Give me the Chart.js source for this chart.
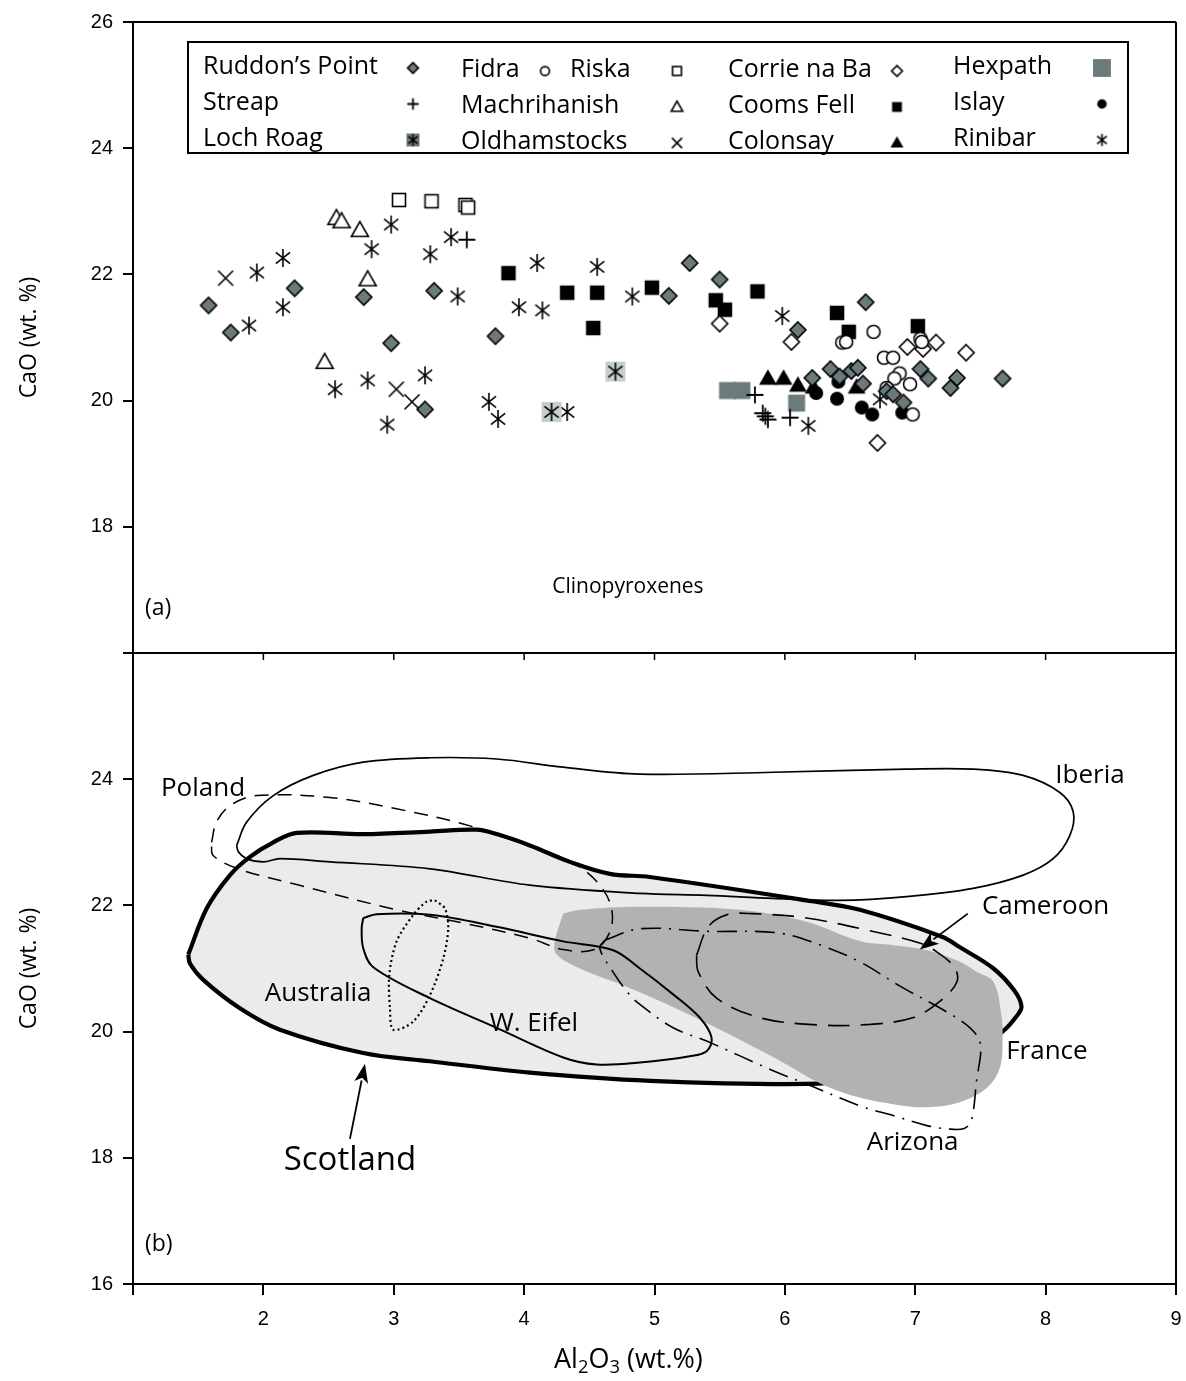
<!DOCTYPE html>
<html>
<head>
<meta charset="utf-8">
<script src="https://cdn.jsdelivr.net/npm/chart.js@4.4.1/dist/chart.umd.min.js"></script>
<style>
  html, body { margin: 0; padding: 0; background: #fff; }
  #wrap { width: 1186px; height: 1381px; position: relative; }
</style>
</head>
<body>
<div id="wrap"><canvas id="c" width="1186" height="1381"></canvas></div>
<script>
// ---------- Panel (a): clinopyroxene analyses, [Al2O3, CaO] wt.% ----------
const ruddonsPoint = [[1.58,21.51],[1.75,21.08],[2.24,21.78],[2.77,21.64],[3.31,21.74],[2.98,20.91],[3.24,19.86],[3.78,21.02],
  [5.27,22.18],[5.50,21.92],[5.11,21.66],[6.10,21.12],[6.62,21.56],[6.21,20.36],[6.35,20.50],[6.42,20.38],[6.51,20.47],
  [6.56,20.52],[6.60,20.27],[7.04,20.50],[7.10,20.35],[7.32,20.36],[7.27,20.20],[6.78,20.15],[6.83,20.10],[6.91,19.97],[7.67,20.35]];
const fidra = [[6.68,21.09],[6.44,20.92],[6.47,20.93],[6.76,20.68],[6.83,20.68],[7.04,20.98],[7.05,20.93],[6.88,20.43],
  [6.84,20.35],[6.96,20.26],[6.78,20.20],[6.98,19.78]];
const riska = [[3.04,23.18],[3.29,23.16],[3.55,23.10],[3.57,23.06]];
const corrieNaBa = [[5.50,21.22],[6.05,20.93],[6.94,20.85],[7.06,20.82],[7.16,20.92],[7.39,20.76],[6.71,19.33]];
const hexpath = [[5.56,20.16],[5.67,20.16],[6.09,19.96]];
const streap = [[3.56,22.55],[5.77,20.09],[5.83,19.80],[5.85,19.75],[5.87,19.70],[6.04,19.73]];
const machrihanish = [[2.56,22.89],[2.60,22.84],[2.74,22.70],[2.80,21.92],[2.47,20.61]];
const coomsFell = [[3.88,22.02],[4.33,21.71],[4.56,21.71],[4.53,21.15],[4.98,21.79],[5.47,21.59],[5.54,21.44],[5.79,21.73],
  [6.40,21.39],[6.49,21.09],[7.02,21.18]];
const islay = [[6.24,20.12],[6.40,20.03],[6.59,19.89],[6.67,19.78],[6.90,19.81],[6.41,20.30]];
const lochRoag = [[4.70,20.46],[4.21,19.82]];
const oldhamstocks = [[1.71,21.94],[3.02,20.18],[3.14,19.98]];
const colonsay = [[5.87,20.35],[5.99,20.35],[6.10,20.24],[6.22,20.21],[6.55,20.21]];
const rinibar = [[2.98,22.79],[2.83,22.40],[3.44,22.59],[3.28,22.32],[2.15,22.26],[1.95,22.03],[2.15,21.48],[1.89,21.19],
  [3.49,21.65],[2.55,20.18],[2.80,20.32],[3.24,20.40],[2.95,19.62],[3.73,19.98],[3.80,19.71],[4.10,22.18],[3.96,21.48],
  [4.14,21.43],[4.56,22.12],[4.83,21.65],[5.98,21.34],[4.33,19.82],[6.18,19.60],[6.73,20.02]];

// ---------- Panel (b): compositional fields (closed outlines) ----------
const scotlandField = [[1.424,21.22],[1.565,21.95],[1.744,22.48],[1.897,22.77],[2.076,23.00],[2.255,23.15],[2.766,23.13],
  [3.278,23.17],[3.636,23.20],[3.789,23.13],[4.044,22.95],[4.351,22.69],[4.658,22.50],[4.965,22.45],[6.166,22.08],
  [6.575,21.93],[7.21,21.50],[7.34,21.34],[7.60,21.00],[7.76,20.65],[7.815,20.40],[7.78,20.25],[7.67,20.00],
  [7.45,19.72],[7.00,19.42],[6.60,19.25],[6.166,19.17],[4.965,19.22],[4.044,19.35],[3.278,19.53],[2.766,19.66],
  [2.127,20.03],[1.820,20.37],[1.539,20.82],[1.437,21.08],[1.424,21.22]];
const franceField = [[4.30,21.87],[4.236,21.43],[4.249,21.22],[4.428,21.00],[4.80,20.70],[5.15,20.38],[5.55,19.98],
  [5.95,19.55],[6.30,19.15],[6.58,18.95],[6.83,18.85],[7.09,18.80],[7.34,18.88],[7.55,19.11],[7.65,19.43],[7.67,19.90],
  [7.66,20.27],[7.60,20.79],[7.47,20.95],[7.34,21.11],[7.09,21.29],[6.83,21.37],[6.58,21.43],[6.166,21.74],
  [5.655,21.93],[4.888,21.98],[4.428,21.93],[4.30,21.87]];
const polandField = [[1.603,23.00],[1.640,23.32],[1.744,23.58],[1.949,23.74],[2.511,23.71],[3.022,23.53],[3.533,23.29],
  [4.044,22.95],[4.402,22.64],[4.581,22.32],[4.671,21.95],[4.658,21.58],[4.54,21.30],[4.30,21.30],[4.044,21.48],
  [3.533,21.72],[3.022,21.93],[2.255,22.33],[1.820,22.57],[1.615,22.79],[1.603,23.00]];
const iberiaField = [[1.795,22.95],[1.872,23.32],[2.076,23.74],[2.383,24.06],[2.766,24.27],[3.278,24.34],[3.789,24.32],
  [4.30,24.19],[4.888,24.08],[5.91,24.11],[6.933,24.16],[7.444,24.16],[7.828,24.06],[8.109,23.79],[8.212,23.48],
  [8.186,23.11],[8.058,22.74],[7.828,22.48],[7.444,22.27],[6.933,22.14],[6.42,22.08],[5.91,22.11],[5.40,22.16],
  [4.888,22.19],[4.044,22.32],[3.278,22.58],[2.511,22.69],[2.127,22.74],[2.000,22.69],[1.872,22.74],[1.808,22.85],[1.795,22.95]];
const wEifelField = [[2.766,21.80],[2.869,21.86],[3.278,21.85],[3.789,21.66],[4.30,21.43],[4.683,21.29],[4.888,21.00],
  [5.143,20.59],[5.348,20.22],[5.438,19.90],[5.40,19.69],[5.27,19.61],[4.888,19.51],[4.556,19.48],[4.30,19.59],
  [3.789,20.06],[3.278,20.53],[2.843,21.02],[2.766,21.32],[2.754,21.64],[2.766,21.80]];
const australiaField = [[3.316,22.08],[3.393,21.95],[3.418,21.64],[3.380,21.16],[3.278,20.58],[3.150,20.16],[2.996,20.03],
  [2.971,20.37],[2.966,20.90],[3.022,21.43],[3.150,21.85],[3.252,22.06],[3.316,22.08]];
const cameroonField = [[5.322,21.21],[5.412,21.66],[5.552,21.85],[5.75,21.87],[6.166,21.80],[6.65,21.60],[7.04,21.40],
  [7.16,21.27],[7.30,21.02],[7.32,20.79],[7.20,20.50],[6.98,20.22],[6.62,20.11],[6.217,20.11],[5.808,20.22],[5.476,20.53],
  [5.335,20.95],[5.322,21.21]];
const arizonaField = [[4.62,21.45],[4.888,21.63],[5.40,21.59],[5.962,21.56],[6.30,21.35],[6.58,21.10],[6.90,20.70],
  [7.21,20.35],[7.42,20.06],[7.50,19.80],[7.47,19.22],[7.43,18.59],[7.37,18.46],[7.24,18.46],[7.09,18.51],[6.83,18.67],
  [6.58,18.82],[6.166,19.17],[5.91,19.38],[5.40,19.85],[5.143,20.06],[4.888,20.43],[4.81,20.58],[4.68,20.95],
  [4.58,21.32],[4.62,21.45]];

// Axis ticks
const xTicks = [1,2,3,4,5,6,7,8,9];
const yTicks = [16,18,20,22,24,26];

// ---------- symbols ----------
const GRAY = '#6b7b7c';
const LIGHT = '#c6cece';

function drawSym(g, type, k) {
  g.strokeStyle = '#000';
  g.lineWidth = 1.6;
  const star = (h) => {
    g.beginPath();
    g.moveTo(0, -h); g.lineTo(0, h);
    const a = 38 * Math.PI / 180;
    g.moveTo(-h * Math.cos(a), -h * Math.sin(a)); g.lineTo(h * Math.cos(a), h * Math.sin(a));
    g.moveTo(-h * Math.cos(a), h * Math.sin(a)); g.lineTo(h * Math.cos(a), -h * Math.sin(a));
    g.stroke();
  };
  const tri = (w, h, fill) => {
    g.beginPath();
    g.moveTo(0, -h * 0.58); g.lineTo(w / 2, h * 0.42); g.lineTo(-w / 2, h * 0.42); g.closePath();
    g.fillStyle = fill; g.fill(); g.stroke();
  };
  switch (type) {
    case 'diamondGray':
    case 'diamondOpen': {
      const h = 8 * k;
      g.beginPath(); g.moveTo(0, -h); g.lineTo(h, 0); g.lineTo(0, h); g.lineTo(-h, 0); g.closePath();
      g.fillStyle = type === 'diamondGray' ? GRAY : '#fff'; g.fill(); g.stroke(); break;
    }
    case 'circleOpen':
      g.beginPath(); g.arc(0, 0, 6.5 * k, 0, Math.PI * 2); g.fillStyle = '#fff'; g.fill(); g.stroke(); break;
    case 'circleBlack':
      g.beginPath(); g.arc(0, 0, 7 * k, 0, Math.PI * 2); g.fillStyle = '#000'; g.fill(); break;
    case 'squareOpen': {
      const s = 13 * k;
      g.fillStyle = '#fff'; g.fillRect(-s / 2, -s / 2, s, s); g.strokeRect(-s / 2, -s / 2, s, s); break;
    }
    case 'squareBlack': {
      const s = 14.5 * k; g.fillStyle = '#000'; g.fillRect(-s / 2, -s / 2, s, s); break;
    }
    case 'squareGray': {
      const s = 17 * k; g.fillStyle = GRAY; g.fillRect(-s / 2, -s / 2, s, s); break;
    }
    case 'plus': {
      const h = 8.5 * k; g.lineWidth = 1.8;
      g.beginPath(); g.moveTo(-h, 0); g.lineTo(h, 0); g.moveTo(0, -h); g.lineTo(0, h); g.stroke(); break;
    }
    case 'cross': {
      const h = 7.5 * k;
      g.beginPath(); g.moveTo(-h, -h); g.lineTo(h, h); g.moveTo(-h, h); g.lineTo(h, -h); g.stroke(); break;
    }
    case 'triOpen': tri(17 * k, 15 * k, '#fff'); break;
    case 'triBlack': tri(15 * k, 13 * k, '#000'); break;
    case 'star': star(9 * k); break;
    case 'starBoxLight': {
      const s = 20 * k; g.fillStyle = LIGHT; g.fillRect(-s / 2, -s / 2, s, s); star(9 * k); break;
    }
    case 'starBoxGray': {
      const s = 13; g.fillStyle = GRAY; g.fillRect(-s / 2, -s / 2, s, s); star(6); break;
    }
  }
}

function symbolCanvas(type, k) {
  const S = Math.ceil(24 * k) + 6;
  const c = document.createElement('canvas');
  c.width = S; c.height = S;
  const g = c.getContext('2d');
  g.translate(S / 2, S / 2);
  drawSym(g, type, k);
  return c;
}

// series definitions: label, data, symbol, legend column/row
const series = [
  { label: 'Ruddon\u2019s Point', data: ruddonsPoint, sym: 'diamondGray', col: 0, row: 0 },
  { label: 'Streap', data: streap, sym: 'plus', col: 0, row: 1 },
  { label: 'Loch Roag', data: lochRoag, sym: 'starBoxLight', legendSym: 'starBoxGray', col: 0, row: 2 },
  { label: 'Fidra', data: fidra, sym: 'circleOpen', col: 1, row: 0 },
  { label: 'Riska', data: riska, sym: 'squareOpen', col: 1.5, row: 0 },
  { label: 'Machrihanish', data: machrihanish, sym: 'triOpen', col: 1, row: 1 },
  { label: 'Oldhamstocks', data: oldhamstocks, sym: 'cross', col: 1, row: 2 },
  { label: 'Corrie na Ba', data: corrieNaBa, sym: 'diamondOpen', col: 2, row: 0 },
  { label: 'Cooms Fell', data: coomsFell, sym: 'squareBlack', col: 2, row: 1 },
  { label: 'Colonsay', data: colonsay, sym: 'triBlack', col: 2, row: 2 },
  { label: 'Hexpath', data: hexpath, sym: 'squareGray', col: 3, row: 0 },
  { label: 'Islay', data: islay, sym: 'circleBlack', col: 3, row: 1 },
  { label: 'Rinibar', data: rinibar, sym: 'star', col: 3, row: 2 },
];

const pointDatasets = series.map(s => ({
  label: s.label,
  data: s.data,
  yAxisID: 'yTop',
  pointStyle: symbolCanvas(s.sym, 1),
  pointRadius: 8,
  showLine: false,
  order: 0,
}));

const fieldLine = (label, data, opts) => Object.assign({
  label, data, yAxisID: 'yBot', showLine: true, pointRadius: 0, tension: 0.35,
  borderColor: '#000', borderWidth: 1.6, fill: false, order: 1,
}, opts);

const fieldDatasets = [
  fieldLine('Scotland', scotlandField, { borderWidth: 4.2, backgroundColor: '#ebebeb', fill: 'shape', order: 10 }),
  fieldLine('France', franceField, { borderWidth: 0, borderColor: 'rgba(0,0,0,0)', backgroundColor: '#b2b2b2', fill: 'shape', order: 9 }),
  fieldLine('Iberia', iberiaField, { borderWidth: 1.7 }),
  fieldLine('Poland', polandField, { borderDash: [14, 9], borderWidth: 1.5 }),
  fieldLine('W. Eifel', wEifelField, { borderWidth: 2 }),
  fieldLine('Australia', australiaField, { borderDash: [2, 3], borderWidth: 2.2, tension: 0.3 }),
  fieldLine('Cameroon', cameroonField, { borderDash: [22, 11], borderWidth: 1.6 }),
  fieldLine('Arizona', arizonaField, { borderDash: [20, 8, 2, 8], borderWidth: 1.6 }),
];

// ---------- annotations drawn in data space ----------
const fieldLabels = [
  { text: 'Poland', x: 1.537, y: 23.85, size: 26 },
  { text: 'Iberia', x: 8.34, y: 24.06, size: 26 },
  { text: 'Cameroon', x: 8.00, y: 21.98, size: 26 },
  { text: 'France', x: 8.01, y: 19.68, size: 26 },
  { text: 'Arizona', x: 6.98, y: 18.24, size: 26 },
  { text: 'Australia', x: 2.42, y: 20.61, size: 26 },
  { text: 'W. Eifel', x: 4.075, y: 20.13, size: 26 },
  { text: 'Scotland', x: 2.664, y: 17.96, size: 33 },
];
const arrows = [
  { from: [2.664, 18.30], to: [2.779, 19.49] },
  { from: [7.403, 21.87], to: [7.035, 21.30] },
];

const LABEL_FONT = '"Open Sans", "DejaVu Sans", sans-serif';
const TICK_FONT = 'Liberation Sans';

// text runs with subscripts: [string, isSubscript]
function drawRich(g, runs, cx, cy, size) {
  const widthOf = r => { g.font = `${r[1] ? size * 0.68 : size}px ${LABEL_FONT}`; return g.measureText(r[0]).width; };
  const total = runs.reduce((s, r) => s + widthOf(r), 0);
  let x0 = cx - total / 2;
  g.textAlign = 'left';
  runs.forEach(r => {
    g.font = `${r[1] ? size * 0.68 : size}px ${LABEL_FONT}`;
    g.fillText(r[0], x0, cy + (r[1] ? size * 0.3 : 0));
    x0 += g.measureText(r[0]).width;
  });
}

const decor = {
  id: 'decor',
  afterDraw(chart) {
    const g = chart.ctx;
    const x = chart.scales.x, yT = chart.scales.yTop, yB = chart.scales.yBot;
    const a = chart.chartArea;
    g.save();
    g.strokeStyle = '#000';
    g.lineWidth = 2;
    // frame: top edge, right edge, panel divider
    const mid = yT.getPixelForValue(16);
    g.beginPath();
    g.moveTo(a.left, a.top); g.lineTo(a.right, a.top);
    g.moveTo(a.right, a.top); g.lineTo(a.right, a.bottom);
    g.moveTo(a.left - 10, mid); g.lineTo(a.right, mid);
    g.stroke();
    g.lineWidth = 1.5;
    g.beginPath();
    xTicks.forEach(v => { const px = x.getPixelForValue(v); g.moveTo(px, mid); g.lineTo(px, mid + 7); });
    g.stroke();

    // x-axis title with subscripts
    g.fillStyle = '#000';
    g.textBaseline = 'middle';
    drawRich(g, [['Al', false], ['2', true], ['O', false], ['3', true], [' (wt.%)', false]],
      x.getPixelForValue(4.80), x.bottom - 21, 27);

    // panel captions
    g.textAlign = 'left';
    g.font = `23px ${LABEL_FONT}`;
    g.fillText('(a)', x.getPixelForValue(1) + 12, yT.getPixelForValue(16.70));
    g.fillText('(b)', x.getPixelForValue(1) + 12, yB.getPixelForValue(16.62));
    g.textAlign = 'center';
    g.font = `21px ${LABEL_FONT}`;
    g.fillText('Clinopyroxenes', x.getPixelForValue(4.796), yT.getPixelForValue(17.04));

    // field names
    fieldLabels.forEach(l => {
      g.font = `${l.size}px ${LABEL_FONT}`;
      g.fillText(l.text, x.getPixelForValue(l.x), yB.getPixelForValue(l.y));
    });
    // arrows
    arrows.forEach(ar => {
      const x0 = x.getPixelForValue(ar.from[0]), y0 = yB.getPixelForValue(ar.from[1]);
      const x1 = x.getPixelForValue(ar.to[0]), y1 = yB.getPixelForValue(ar.to[1]);
      const ang = Math.atan2(y1 - y0, x1 - x0);
      const L = 19, W = 7;
      g.lineWidth = 1.8;
      g.beginPath(); g.moveTo(x0, y0);
      g.lineTo(x1 - (L - 2) * Math.cos(ang), y1 - (L - 2) * Math.sin(ang)); g.stroke();
      g.beginPath();
      g.moveTo(x1, y1);
      g.lineTo(x1 - L * Math.cos(ang) + W * Math.sin(ang), y1 - L * Math.sin(ang) - W * Math.cos(ang));
      g.lineTo(x1 - L * 0.75 * Math.cos(ang), y1 - L * 0.75 * Math.sin(ang));
      g.lineTo(x1 - L * Math.cos(ang) - W * Math.sin(ang), y1 - L * Math.sin(ang) + W * Math.cos(ang));
      g.closePath(); g.fill();
    });

    // legend box
    const bx = a.left + 55, by = a.top + 20, bw = 940, bh = 111;
    g.fillStyle = '#fff';
    g.fillRect(bx, by, bw, bh);
    g.lineWidth = 2;
    g.strokeRect(bx, by, bw, bh);
    g.fillStyle = '#000';
    g.textAlign = 'left';
    g.font = `25px ${LABEL_FONT}`;
    const colText = [bx + 15, bx + 273, bx + 540, bx + 765];
    const colSym = [bx + 225, bx + 489, bx + 709, bx + 914];
    const rowY = [by + 25, by + 61, by + 97];
    series.forEach(s => {
      const ci = Math.floor(s.col);
      let tx = colText[ci], sx = colSym[ci];
      if (s.col === 1 && s.row === 0) sx = bx + 357;          // Fidra marker sits right after its name
      if (s.col === 1.5) { tx = bx + 382; sx = bx + 489; }  // Riska shares the second column
      const ty = rowY[s.row] + (ci === 1 || ci === 2 ? 3 : 0);
      g.fillText(s.label, tx, ty);
      const c = symbolCanvas(s.legendSym || s.sym, s.sym === 'squareGray' ? 1.05 : 0.68);
      g.drawImage(c, sx - c.width / 2, ty - c.height / 2 + 1);
    });
    g.restore();
  }
};

const axisCommon = (hideVal) => ({
  type: 'linear', min: 16, max: 26, position: 'left', stack: 'panels', stackWeight: 1,
  afterBuildTicks: s => { s.ticks = yTicks.map(v => ({ value: v })); },
  ticks: {
    callback: v => (v === hideVal ? '' : String(v)),
    font: { family: TICK_FONT, size: 20 }, color: '#000', padding: 10,
  },
  grid: { drawOnChartArea: false, drawTicks: true, tickLength: 10, color: '#000', lineWidth: 2 },
  border: { display: true, color: '#000', width: 2 },
  title: { display: true, text: 'CaO (wt. %)', color: '#000', font: { family: LABEL_FONT, size: 23 }, padding: { top: 16, bottom: 0 } },
  afterFit: s => { s.width = 133; },
});

new Chart(document.getElementById('c'), {
  type: 'scatter',
  data: { datasets: [...pointDatasets, ...fieldDatasets] },
  options: {
    responsive: false,
    devicePixelRatio: 1,
    animation: false,
    events: [],
    layout: { padding: { top: 22, right: 10, left: 0, bottom: 0 } },
    plugins: { legend: { display: false }, tooltip: { enabled: false } },
    scales: {
      x: {
        type: 'linear', min: 1, max: 9, position: 'bottom',
        afterBuildTicks: s => { s.ticks = xTicks.map(v => ({ value: v })); },
        ticks: { callback: v => (v === 1 ? '' : String(v)), font: { family: TICK_FONT, size: 20 }, color: '#000', padding: 12 },
        grid: { drawOnChartArea: false, drawTicks: true, tickLength: 11, color: '#000', lineWidth: 2 },
        border: { display: true, color: '#000', width: 2 },
        title: { display: false },
        afterFit: s => { s.height = 97; s.paddingRight = 0; s.paddingLeft = 0; },
      },
      yBot: axisCommon(26),
      yTop: axisCommon(16),
    },
  },
  plugins: [decor],
});
</script>
</body>
</html>
